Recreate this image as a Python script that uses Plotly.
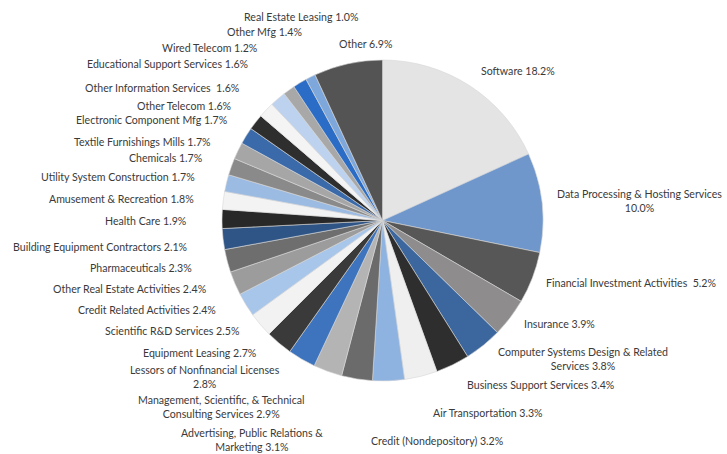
import plotly.graph_objects as go

labels = [
    "Software", "Data Processing & Hosting Services", "Financial Investment Activities",
    "Insurance", "Computer Systems Design & Related Services", "Business Support Services",
    "Air Transportation", "Credit (Nondepository)", "Advertising, Public Relations & Marketing",
    "Management, Scientific, & Technical Consulting Services", "Lessors of Nonfinancial Licenses",
    "Equipment Leasing", "Scientific R&D Services", "Credit Related Activities",
    "Other Real Estate Activities", "Pharmaceuticals", "Building Equipment Contractors",
    "Health Care", "Amusement & Recreation", "Utility System Construction", "Chemicals",
    "Textile Furnishings Mills", "Electronic Component Mfg", "Other Telecom",
    "Other Information Services", "Educational Support Services", "Wired Telecom",
    "Other Mfg", "Real Estate Leasing", "Other",
]
values = [18.2, 10.0, 5.2, 3.9, 3.8, 3.4, 3.3, 3.2, 3.1, 2.9, 2.8, 2.7, 2.5, 2.4, 2.4, 2.3,
          2.1, 1.9, 1.8, 1.7, 1.7, 1.7, 1.7, 1.6, 1.6, 1.6, 1.2, 1.4, 1.0, 6.9]
# label text as displayed (line breaks where the reference wraps)
display_text = [
    "Software 18.2%", "Data Processing & Hosting Services<br>10.0%",
    "Financial Investment Activities  5.2%", "Insurance 3.9%",
    "Computer Systems Design & Related<br>Services 3.8%", "Business Support Services 3.4%",
    "Air Transportation 3.3%", "Credit (Nondepository) 3.2%",
    "Advertising, Public Relations &<br>Marketing 3.1%",
    "Management, Scientific, & Technical<br>Consulting Services 2.9%",
    "Lessors of Nonfinancial Licenses<br>2.8%", "Equipment Leasing 2.7%",
    "Scientific R&D Services 2.5%", "Credit Related Activities 2.4%",
    "Other Real Estate Activities 2.4%", "Pharmaceuticals 2.3%",
    "Building Equipment Contractors 2.1%", "Health Care 1.9%",
    "Amusement & Recreation 1.8%", "Utility System Construction 1.7%", "Chemicals 1.7%",
    "Textile Furnishings Mills 1.7%", "Electronic Component Mfg 1.7%", "Other Telecom 1.6%",
    "Other Information Services  1.6%", "Educational Support Services 1.6%",
    "Wired Telecom 1.2%", "Other Mfg 1.4%", "Real Estate Leasing 1.0%", "Other 6.9%",
]

colors = [
    "#e4e4e4", "#6f97cc", "#575757", "#8e8c8c", "#3b679e", "#2e2e2e", "#efefef", "#8fb3e0",
    "#6b6b6b", "#b4b4b4", "#3d74bd", "#3a3a3a", "#f2f2f2", "#a8c5ea", "#9c9c9c", "#6e6e6e",
    "#2f5586", "#282828", "#f3f3f3", "#9bbbe3", "#8a8a8a", "#a6a6a6", "#3a6aaa", "#2e2e2e",
    "#f4f4f4", "#bcd2ee", "#a8a8a8", "#2a6cc6", "#7ea8dc", "#545454",
]

# label positions in pixels (x center, y center) for layout
label_pos = [
    (518, 71), (639, 201), (631, 283), (559, 324), (583, 359), (541, 385), (488, 413),
    (437, 441), (252, 440), (221, 407), (205, 377), (200, 353), (172, 331), (147, 310),
    (130, 289), (141, 268), (100, 247), (146, 221), (121, 199), (118, 177), (166, 158),
    (142, 142), (152, 120), (185, 106), (162, 88), (168, 64), (210, 48), (264, 32),
    (301, 17), (366, 44),
]

W, H = 727, 454

fig = go.Figure(go.Pie(
    labels=labels,
    values=values,
    sort=False,
    direction="clockwise",
    rotation=0,
    textinfo="none",
    hoverinfo="label+percent",
    marker=dict(colors=colors, line=dict(color="#d6d6d6", width=0.6)),
    domain=dict(x=[222 / W, 543 / W], y=[1 - 381 / H, 1 - 60 / H]),
    showlegend=False,
))

annotations = []
for txt, (px, py) in zip(display_text, label_pos):
    annotations.append(dict(
        text=txt, x=px / W, y=1 - py / H, xref="paper", yref="paper",
        xanchor="center", yanchor="middle", showarrow=False, align="center",
        font=dict(family="Lato, 'Open Sans', sans-serif", size=10.6, color="#3a3a3a"),
    ))

fig.update_layout(
    width=W, height=H,
    margin=dict(l=0, r=0, t=0, b=0),
    paper_bgcolor="white",
    plot_bgcolor="white",
    annotations=annotations,
)

fig.write_html(
    "out.html",
    config={"displayModeBar": False},
    post_script="document.body.style.margin='0';document.body.style.padding='0';",
)
